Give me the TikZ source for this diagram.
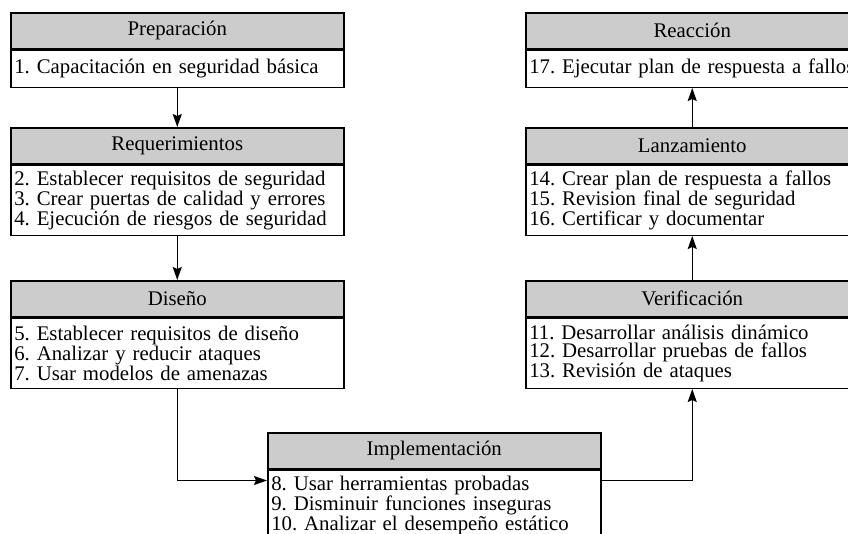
\documentclass[tikz,border=0pt]{standalone}
\usepackage{fontspec}
\setmainfont{Liberation Serif}
\usetikzlibrary{arrows.meta}
\definecolor{headgray}{RGB}{204,204,204}
\frenchspacing
\begin{document}
\begin{tikzpicture}[x=1pt,y=-1pt,
  txt/.style={font=\fontsize{20.8}{18.5}\selectfont},
  hdr/.style={txt, draw, line width=1.5pt, fill=headgray, minimum width=333pt, minimum height=36pt, inner sep=0pt, anchor=north west},
  body/.style={txt, draw, line width=1.5pt, fill=white, minimum width=333pt, text width=326pt, inner xsep=3.5pt, inner ysep=0pt, align=left, anchor=north west},
  conn/.style={line width=1.5pt, -{Stealth[length=13pt,width=9pt,inset=2pt]}}]
\clip (0,0) rectangle (848,533);
\fill[white] (0,0) rectangle (848,533);
% left column
\node[hdr] (prepH) at (10,12) {Preparación};
\node[body, minimum height=37pt] (prepB) at (prepH.south west) {\mbox{1. Capacitación en seguridad básica}};
\node[hdr] (reqH) at (10,127) {Requerimientos};
\node[body, minimum height=70pt] (reqB) at (reqH.south west) {\mbox{2. Establecer requisitos de seguridad}\\\mbox{3. Crear puertas de calidad y errores}\\\mbox{4. Ejecución de riesgos de seguridad}};
\node[hdr] (disH) at (10,280) {Diseño};
\node[body, minimum height=70pt] (disB) at (disH.south west) {\mbox{5. Establecer requisitos de diseño}\\\mbox{6. Analizar y reducir ataques}\\\mbox{7. Usar modelos de amenazas}};
% middle
\node[hdr] (impH) at (267,432) {Implementación};
\node[body, minimum height=70pt] (impB) at (impH.south west) {\mbox{8. Usar herramientas probadas}\\\mbox{9. Disminuir funciones inseguras}\\\mbox{10. Analizar el desempeño estático}};
% right column
\node[hdr] (verH) at (525,280) {Verificación};
\node[body, minimum height=70pt] (verB) at (verH.south west) {\mbox{11. Desarrollar análisis dinámico}\\\mbox{12. Desarrollar pruebas de fallos}\\\mbox{13. Revisión de ataques}};
\node[hdr] (lanH) at (525,127) {Lanzamiento};
\node[body, minimum height=70pt] (lanB) at (lanH.south west) {\mbox{14. Crear plan de respuesta a fallos}\\\mbox{15. Revision final de seguridad}\\\mbox{16. Certificar y documentar}};
\node[hdr] (reaH) at (525,12) {Reacción};
\node[body, minimum height=37pt] (reaB) at (reaH.south west) {\mbox{17. Ejecutar plan de respuesta a fallos}};
% connectors
\coordinate (impIn) at ([yshift=-11pt]impB.north west);
\coordinate (impOut) at ([yshift=-11pt]impB.north east);
\draw[conn] (prepB.south) -- (reqH.north);
\draw[conn] (reqB.south) -- (disH.north);
\draw[conn] (disB.south) |- (impIn);
\draw[conn] (impOut) -| (verB.south);
\draw[conn] (verH.north) -- (lanB.south);
\draw[conn] (lanH.north) -- (reaB.south);
\end{tikzpicture}
\end{document}
